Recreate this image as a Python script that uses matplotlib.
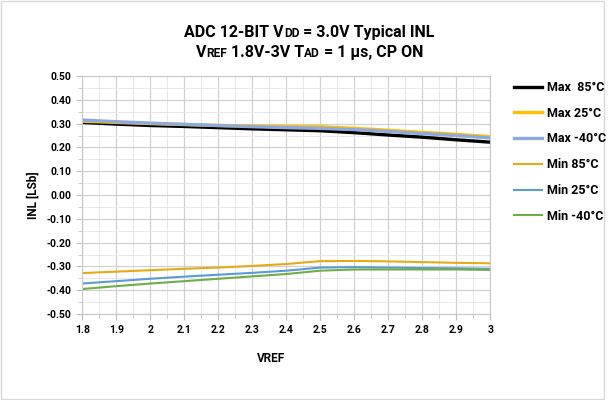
import numpy as np
from matplotlib import pyplot as plt
from matplotlib.patches import Rectangle
from matplotlib.ticker import MultipleLocator

plt.rcParams['font.family'] = ['Roboto', 'DejaVu Sans']

# VREF sweep
vref = [1.8, 1.9, 2.0, 2.1, 2.2, 2.3, 2.4, 2.5, 2.6, 2.7, 2.8, 2.9, 3.0]
inl_ticks = [-0.5, -0.4, -0.3, -0.2, -0.1, 0.0, 0.1, 0.2, 0.3, 0.4, 0.5]

max_85 = [0.305, 0.298, 0.292, 0.288, 0.283, 0.278, 0.274, 0.270, 0.262, 0.252, 0.243, 0.232, 0.222]
max_25 = [0.310, 0.305, 0.300, 0.296, 0.292, 0.290, 0.287, 0.287, 0.280, 0.272, 0.263, 0.255, 0.245]
max_m40 = [0.315, 0.308, 0.302, 0.297, 0.292, 0.287, 0.283, 0.280, 0.275, 0.267, 0.258, 0.250, 0.240]
min_85 = [-0.328, -0.322, -0.316, -0.310, -0.305, -0.298, -0.290, -0.278, -0.277, -0.279, -0.282, -0.285, -0.287]
min_25 = [-0.372, -0.362, -0.352, -0.343, -0.335, -0.327, -0.318, -0.305, -0.303, -0.305, -0.307, -0.308, -0.310]
min_m40 = [-0.395, -0.383, -0.372, -0.362, -0.352, -0.342, -0.332, -0.318, -0.313, -0.313, -0.313, -0.313, -0.315]

series = [
    ("Max  85°C", max_85, "#000000", 2.4),
    ("Max 25°C", max_25, "#FFC000", 2.4),
    ("Max -40°C", max_m40, "#8EA9DB", 2.4),
    ("Min 85°C", min_85, "#E8AA14", 1.5),
    ("Min 25°C", min_25, "#5B9BD5", 1.5),
    ("Min -40°C", min_m40, "#70AD47", 1.5),
]

fig = plt.figure(figsize=(6.09, 4.0), dpi=100)
fig.patches.append(Rectangle((0.002, 0.002), 0.99, 0.995, transform=fig.transFigure,
                             fill=False, edgecolor="#d9d9d9", lw=1))
ax = fig.add_axes([0.135, 0.215, 0.670, 0.595])

for name, vals, col, lw in series:
    ax.plot(vref, vals, color=col, lw=lw, label=name)

ax.set_xlim(1.8, 3.0)
ax.set_ylim(-0.5, 0.5)
ax.xaxis.set_minor_locator(MultipleLocator(0.05))
ax.yaxis.set_minor_locator(MultipleLocator(0.05))
ax.set_xticks(vref)
ax.set_xticklabels(["%g" % v for v in vref])
ax.set_yticks(inl_ticks)
ax.set_yticklabels(["%.2f" % v for v in inl_ticks])
ax.grid(which="major", color="#d0d0d0", lw=0.9)
ax.grid(which="minor", color="#e8e8e8", lw=0.7)
ax.set_axisbelow(True)
for s in ax.spines.values():
    s.set_color("#c8c8c8")
ax.tick_params(which="both", direction="out", color="#bfbfbf", labelsize=7.5)
ax.tick_params(which="major", length=4)
ax.tick_params(which="minor", length=3)
for lbl in ax.get_xticklabels() + ax.get_yticklabels():
    lbl.set_fontweight("bold")
ax.tick_params(axis="x", pad=4)

ax.set_ylabel("INL [LSb]", fontsize=8.5, fontweight="bold", labelpad=5)
fig.text(0.445, 0.105, "VREF", fontsize=8.5, fontweight="bold", ha="center", va="center")

leg = fig.legend(loc="upper left", bbox_to_anchor=(0.835, 0.81), frameon=False,
                 prop={"weight": "bold", "size": 9}, handlelength=2.3,
                 labelspacing=1.02, handletextpad=0.4, borderaxespad=0)

# title with small caps pieces
fig.canvas.draw()
r = fig.canvas.get_renderer()
big, small = 11.5, 8.6
lines = [
    (0.9075, [("ADC 12-BIT V", big), ("DD", small), (" = 3.0V Typical INL", big)]),
    (0.857, [("V", big), ("REF", small), (" 1.8V-3V T", big), ("AD", small), (" = 1 µs, CP ON", big)]),
]
for y, parts in lines:
    ts = [fig.text(0, y, s, fontsize=fs, fontweight="bold", va="baseline") for s, fs in parts]
    widths = [t.get_window_extent(r).width for t in ts]
    x = 0.5 * 609 - sum(widths) / 2 + 5
    for t, w in zip(ts, widths):
        t.set_x(x / 609)
        x += w

fig.savefig("out.png", dpi=100)
